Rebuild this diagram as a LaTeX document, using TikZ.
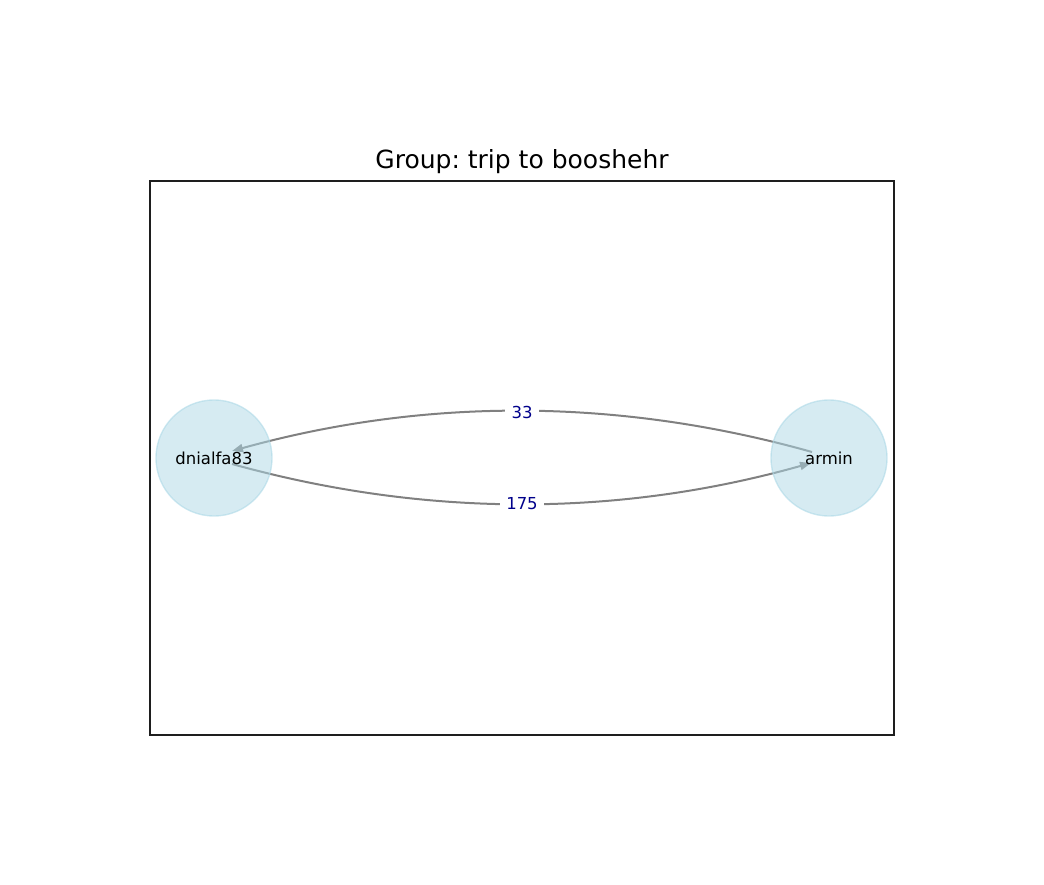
\documentclass[tikz,border=0pt]{standalone}
\usepackage{fontspec}
\setmainfont{DejaVu Sans}
\frenchspacing
\usetikzlibrary{arrows.meta,calc}
\definecolor{nodeblue}{RGB}{173,216,230}
\definecolor{labelblue}{RGB}{0,0,139}
\definecolor{framec}{RGB}{30,30,30}
\tikzset{
  person/.style={circle, minimum size=116pt, inner sep=0pt, fill=nodeblue, fill opacity=0.5, draw=nodeblue, draw opacity=0.6, line width=1.4pt, text opacity=1, font=\fontsize{16.5}{18}\selectfont},
  edge/.style={draw=gray, line width=2pt, -{Triangle[length=11pt,width=8pt]}},
  elabel/.style={fill=white, text=labelblue, inner xsep=6.5pt, inner ysep=3pt, font=\fontsize{16.5}{18}\selectfont}
}
\begin{document}
\begin{tikzpicture}[x=1pt,y=-1pt]
\useasboundingbox (0,0) rectangle (1044,885);
\draw[framec, line width=1.5pt] (150,181) rectangle (894,735);
\node[font=\fontsize{25}{28}\selectfont] (title) at (522,162) {Group: trip to booshehr};
% anchor coordinates
\coordinate (d) at (214,458);
\coordinate (a) at (829,458);
\coordinate (aout) at ($(a)+(-17,-6)$);
\coordinate (din) at ($(d)+(18,-7)$);
\coordinate (dout) at ($(d)+(18,6)$);
\coordinate (ain) at ($(a)+(-18,5)$);
% edges
\draw[edge] (aout) .. controls (618.7,397.7) and (425.3,397.3) .. (din);
\draw[edge] (dout) .. controls (425.3,517.7) and (618.3,517.3) .. (ain);
\node[elabel] (l33) at (522,412) {33};
\node[elabel] (l175) at (522,504) {175};
% nodes
\node[person] (dn) at (d) {dnialfa83};
\node[person] (ar) at (a) {armin};
\end{tikzpicture}
\end{document}
